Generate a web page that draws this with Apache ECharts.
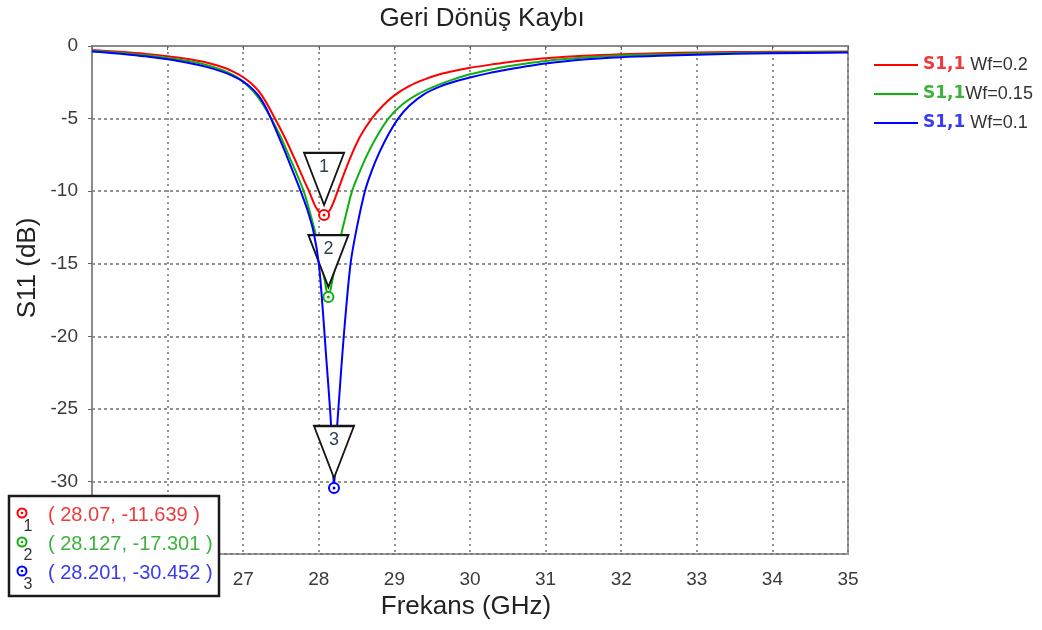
<!DOCTYPE html>
<html>
<head>
<meta charset="utf-8">
<style>
  html, body { margin: 0; padding: 0; background: #fff; }
  #chart { width: 1042px; height: 630px; }
</style>
<script src="https://cdn.jsdelivr.net/npm/echarts@6/dist/echarts.min.js"></script>
</head>
<body>
<div id="chart"></div>
<script>
// Return loss (S11) versus frequency for three feed widths
const seriesNames = ['S1,1 Wf=0.2', 'S1,1Wf=0.15', 'S1,1 Wf=0.1'];
const seriesColors = ['#ff0000', '#10b010', '#0000ff'];
const textColors = ['#f03a3a', '#3cb43c', '#3a3af0'];

const freqWf02 = [25, 25.25, 25.5, 25.75, 26, 26.25, 26.5, 26.75, 26.9, 27, 27.1, 27.2, 27.3, 27.42, 27.55, 27.7, 27.8, 27.87, 27.95, 28.0, 28.07, 28.14, 28.2, 28.26, 28.33, 28.42, 28.55, 28.7, 28.85, 29, 29.2, 29.4, 29.6, 29.8, 30, 30.25, 30.5, 30.75, 31, 31.5, 32, 32.5, 33, 33.5, 34, 35];
const s11Wf02 = [-0.28, -0.36, -0.45, -0.56, -0.7, -0.88, -1.12, -1.5, -1.85, -2.15, -2.55, -3.08, -3.85, -5.0, -6.3, -8.0, -9.2, -10.0, -11.0, -11.4, -11.639, -11.35, -10.7, -9.85, -8.85, -7.65, -6.2, -5.0, -4.1, -3.4, -2.75, -2.3, -1.95, -1.7, -1.5, -1.3, -1.12, -0.97, -0.85, -0.68, -0.57, -0.5, -0.45, -0.42, -0.4, -0.38];

const freqWf015 = [25, 25.25, 25.5, 25.75, 26, 26.25, 26.5, 26.72, 26.87, 26.97, 27.07, 27.17, 27.27, 27.37, 27.5, 27.6, 27.7, 27.8, 27.88, 27.95, 28.02, 28.08, 28.127, 28.17, 28.23, 28.3, 28.37, 28.44, 28.53, 28.63, 28.76, 28.92, 29.1, 29.3, 29.5, 29.75, 30, 30.25, 30.5, 30.75, 31, 31.5, 32, 32.5, 33, 33.5, 34, 35];
const s11Wf015 = [-0.32, -0.42, -0.53, -0.66, -0.82, -1.02, -1.29, -1.65, -2.0, -2.33, -2.8, -3.35, -4.1, -5.0, -6.3, -7.5, -8.7, -10.0, -11.4, -12.8, -14.5, -16.2, -17.301, -16.4, -14.7, -12.9, -11.4, -10.0, -8.8, -7.6, -6.3, -5.0, -4.05, -3.35, -2.85, -2.35, -1.95, -1.65, -1.4, -1.2, -1.03, -0.8, -0.66, -0.58, -0.52, -0.48, -0.45, -0.42];

const freqWf01 = [25, 25.25, 25.5, 25.75, 26, 26.25, 26.5, 26.75, 26.9, 27, 27.1, 27.2, 27.28, 27.35, 27.45, 27.55, 27.65, 27.76, 27.85, 27.93, 28.0, 28.05, 28.1, 28.15, 28.18, 28.201, 28.23, 28.27, 28.33, 28.42, 28.5, 28.61, 28.7, 28.8, 28.92, 29.05, 29.2, 29.4, 29.6, 29.8, 30, 30.25, 30.5, 30.75, 31, 31.5, 32, 32.5, 33, 33.5, 34, 35];
const s11Wf01 = [-0.38, -0.48, -0.6, -0.74, -0.92, -1.14, -1.42, -1.82, -2.16, -2.45, -2.85, -3.4, -4.05, -4.8, -6.0, -7.25, -8.55, -10.0, -11.3, -12.8, -15.0, -18.0, -21.6, -25.1, -27.8, -30.452, -27.2, -24.2, -20.0, -15.0, -12.6, -10.0, -8.6, -7.35, -6.1, -5.0, -4.1, -3.3, -2.8, -2.45, -2.17, -1.87, -1.62, -1.4, -1.2, -0.93, -0.77, -0.67, -0.6, -0.54, -0.5, -0.45];

// Resonance markers (minimum of each curve)
const markerIds = ['1', '2', '3'];
const markerFreq = [28.07, 28.127, 28.201];
const markerS11 = [-11.639, -17.301, -30.452];

const freqLists = [freqWf02, freqWf015, freqWf01];
const valueLists = [s11Wf02, s11Wf015, s11Wf01];

const FONT = '"Liberation Sans", Arial, sans-serif';

function zip(xs, ys) { return xs.map((x, i) => [x, ys[i]]); }

const series = seriesNames.map((name, i) => ({
  name: name,
  type: 'line',
  data: zip(freqLists[i], valueLists[i]),
  symbol: 'none',
  smooth: 0.3,
  z: i === 2 ? 4 : 2,
  lineStyle: { color: seriesColors[i], width: 2 },
  itemStyle: { color: seriesColors[i] },
  markPoint: {
    z: i === 2 ? 5 : 3,
    animation: false,
    data: [
      {
        coord: [markerFreq[i], markerS11[i]],
        symbol: 'path://M0,0L40,0L20,52Z',
        symbolSize: [40, 52],
        symbolKeepAspect: false,
        symbolOffset: [0, -36],
        itemStyle: { color: '#ffffff', borderColor: '#151515', borderWidth: 2 },
        label: {
          show: true, position: 'inside', offset: [0, -12],
          formatter: markerIds[i], fontSize: 18, fontFamily: FONT, color: '#34404f'
        }
      },
      {
        coord: [markerFreq[i], markerS11[i]],
        symbol: 'circle', symbolSize: 10,
        itemStyle: { color: '#ffffff', borderColor: seriesColors[i], borderWidth: 2 },
        label: { show: false }
      },
      {
        coord: [markerFreq[i], markerS11[i]],
        symbol: 'circle', symbolSize: 3,
        itemStyle: { color: seriesColors[i] },
        label: { show: false }
      }
    ]
  }
}));

// Marker readout table in the lower-left corner
const TABLE_Z = 100;
const rowTop = 515;
const rowGap = 29;
const tableChildren = [{
  type: 'rect', z: TABLE_Z,
  shape: { x: 9, y: 496, width: 210, height: 100 },
  style: { fill: '#ffffff', stroke: '#1a1a1a', lineWidth: 2.5 }
}];
markerIds.forEach((id, i) => {
  const ty = rowTop + i * rowGap;
  const cy = ty - 2;
  tableChildren.push(
    { type: 'circle', z: TABLE_Z, shape: { cx: 22, cy: cy, r: 4.5 }, style: { fill: '#fff', stroke: seriesColors[i], lineWidth: 2 } },
    { type: 'circle', z: TABLE_Z, shape: { cx: 22, cy: cy, r: 1.3 }, style: { fill: seriesColors[i] } },
    { type: 'text', z: TABLE_Z, x: 28, y: cy + 14, style: { text: id, font: '16px ' + FONT, fill: '#333', align: 'center', verticalAlign: 'middle' } },
    { type: 'text', z: TABLE_Z, x: 48, y: ty, style: {
        text: '( ' + markerFreq[i] + ', ' + markerS11[i] + ' )',
        font: '20px ' + FONT, fill: textColors[i], align: 'left', verticalAlign: 'middle' } }
  );
});

const chart = echarts.init(document.getElementById('chart'), null, { renderer: 'canvas' });
chart.setOption({
  animation: false,
  backgroundColor: '#ffffff',
  title: {
    text: 'Geri Dönüş Kaybı',
    left: 477, top: 1, textAlign: 'center',
    textStyle: { fontSize: 26, fontWeight: 'normal', color: '#222', fontFamily: FONT }
  },
  legend: {
    orient: 'vertical',
    left: 869, top: 50,
    icon: 'rect',
    itemWidth: 44, itemHeight: 2, itemGap: 9,
    textStyle: {
      fontFamily: FONT, fontSize: 18, lineHeight: 20, color: '#333',
      rich: {
        s0: { color: textColors[0], fontWeight: 'bold', fontSize: 17, fontFamily: '"DejaVu Sans", sans-serif' },
        s1: { color: textColors[1], fontWeight: 'bold', fontSize: 17, fontFamily: '"DejaVu Sans", sans-serif' },
        s2: { color: textColors[2], fontWeight: 'bold', fontSize: 17, fontFamily: '"DejaVu Sans", sans-serif' },
        w: { color: '#333', fontSize: 18, fontFamily: FONT }
      }
    },
    formatter: function (name) {
      const i = seriesNames.indexOf(name);
      return '{s' + i + '|' + name.slice(0, 4) + '}{w|' + name.slice(4) + '}';
    },
    data: seriesNames
  },
  grid: {
    left: 92, right: 194, top: 46, bottom: 76,
    show: true, borderColor: '#9a9a9a', borderWidth: 2, backgroundColor: '#fff'
  },
  xAxis: {
    type: 'value', min: 25, max: 35, interval: 1,
    axisLine: { show: true, lineStyle: { color: '#8a8a8a', width: 2 } },
    axisTick: { show: true, length: 4, lineStyle: { color: '#666' } },
    axisLabel: { fontSize: 19, color: '#3a3a3a', fontFamily: FONT, margin: 16 },
    splitLine: { show: true, lineStyle: { color: '#707070', width: 1.5, type: [2, 4] } }
  },
  yAxis: {
    type: 'value', min: -35, max: 0, interval: 5,
    axisLine: { show: true, lineStyle: { color: '#8a8a8a', width: 2 } },
    axisTick: { show: true, length: 4, lineStyle: { color: '#666' } },
    axisLabel: { fontSize: 19, color: '#3a3a3a', fontFamily: FONT, margin: 14 },
    splitLine: { show: true, lineStyle: { color: '#707070', width: 1.5, type: [3, 3] } }
  },
  graphic: [
    { type: 'text', x: 466, y: 607, z: 50, style: { text: 'Frekans (GHz)', font: '26px ' + FONT, fill: '#222', align: 'center', verticalAlign: 'middle' } },
    { type: 'text', x: 28, y: 268, rotation: Math.PI / 2, z: 50, style: { text: 'S11 (dB)', font: '26px ' + FONT, fill: '#222', align: 'center', verticalAlign: 'middle' } },
    { type: 'group', z: TABLE_Z, children: tableChildren }
  ],
  series: series
});
</script>
</body>
</html>
